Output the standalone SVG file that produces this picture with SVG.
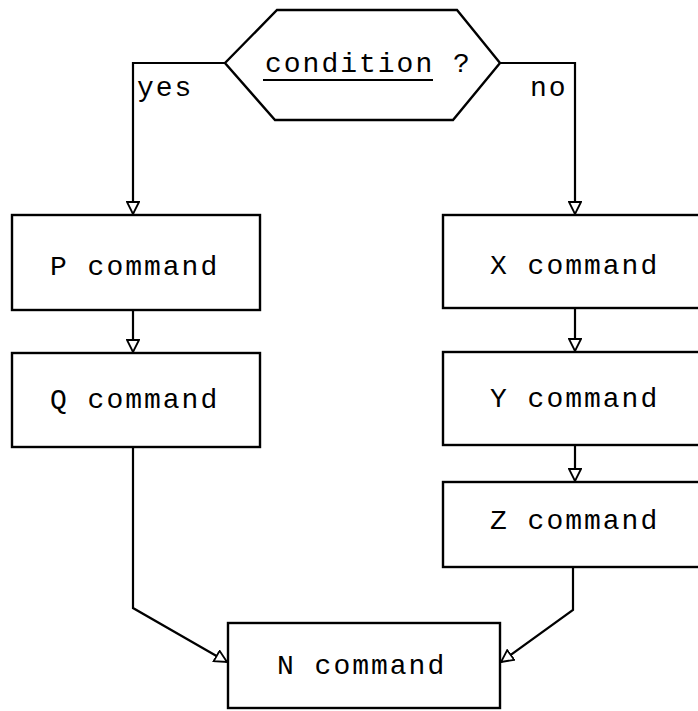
<svg xmlns="http://www.w3.org/2000/svg" width="698" height="711" viewBox="0 0 698 711">
<style>
.box{fill:#fff;stroke:#000;stroke-width:2.4}
.t{font-family:"Liberation Mono","DejaVu Sans Mono",monospace;font-size:28px;letter-spacing:2px;fill:#000}
.c{fill:none;stroke:#000;stroke-width:2.2}
</style>
<defs>
<marker id="ahs" viewBox="0 0 14 14" refX="13" refY="7" markerWidth="14" markerHeight="14" markerUnits="userSpaceOnUse" orient="auto">
<path d="M1,1 L13,7 L1,13 Z" fill="#fff" stroke="#000" stroke-width="1.8"/>
</marker>
</defs>
<g id="connectors">
<path class="c" d="M225,63 H133 V214" marker-end="url(#ahs)"/>
<path class="c" d="M500,63 H575 V214" marker-end="url(#ahs)"/>
<path class="c" d="M133,310 V352" marker-end="url(#ahs)"/>
<path class="c" d="M575,308 V351" marker-end="url(#ahs)"/>
<path class="c" d="M575,445 V481" marker-end="url(#ahs)"/>
<path class="c" d="M133,447 V608 L227,662" marker-end="url(#ahs)"/>
<path class="c" d="M573,567 V610 L501,662" marker-end="url(#ahs)"/>
</g>
<g id="condition">
<polygon class="box" points="277,10 457,10 500,63 453,120 275,120 225,63"/>
<text class="t" x="265" y="72">condition ?</text>
<line x1="263" y1="80" x2="433" y2="80" stroke="#000" stroke-width="2"/>
</g>
<g id="labels">
<text class="t" x="137" y="96">yes</text>
<text class="t" x="530" y="96">no</text>
</g>
<g id="P">
<rect class="box" x="12" y="215" width="248" height="95"/>
<text class="t" x="50" y="275">P command</text>
</g>
<g id="Q">
<rect class="box" x="12" y="353" width="248" height="94"/>
<text class="t" x="50" y="408">Q command</text>
</g>
<g id="X">
<rect class="box" x="443" y="215" width="262" height="93"/>
<text class="t" x="490" y="274">X command</text>
</g>
<g id="Y">
<rect class="box" x="443" y="352" width="262" height="93"/>
<text class="t" x="490" y="407">Y command</text>
</g>
<g id="Z">
<rect class="box" x="443" y="482" width="262" height="85"/>
<text class="t" x="490" y="529">Z command</text>
</g>
<g id="N">
<rect class="box" x="228" y="623" width="272" height="85"/>
<text class="t" x="277" y="674">N command</text>
</g>
</svg>
